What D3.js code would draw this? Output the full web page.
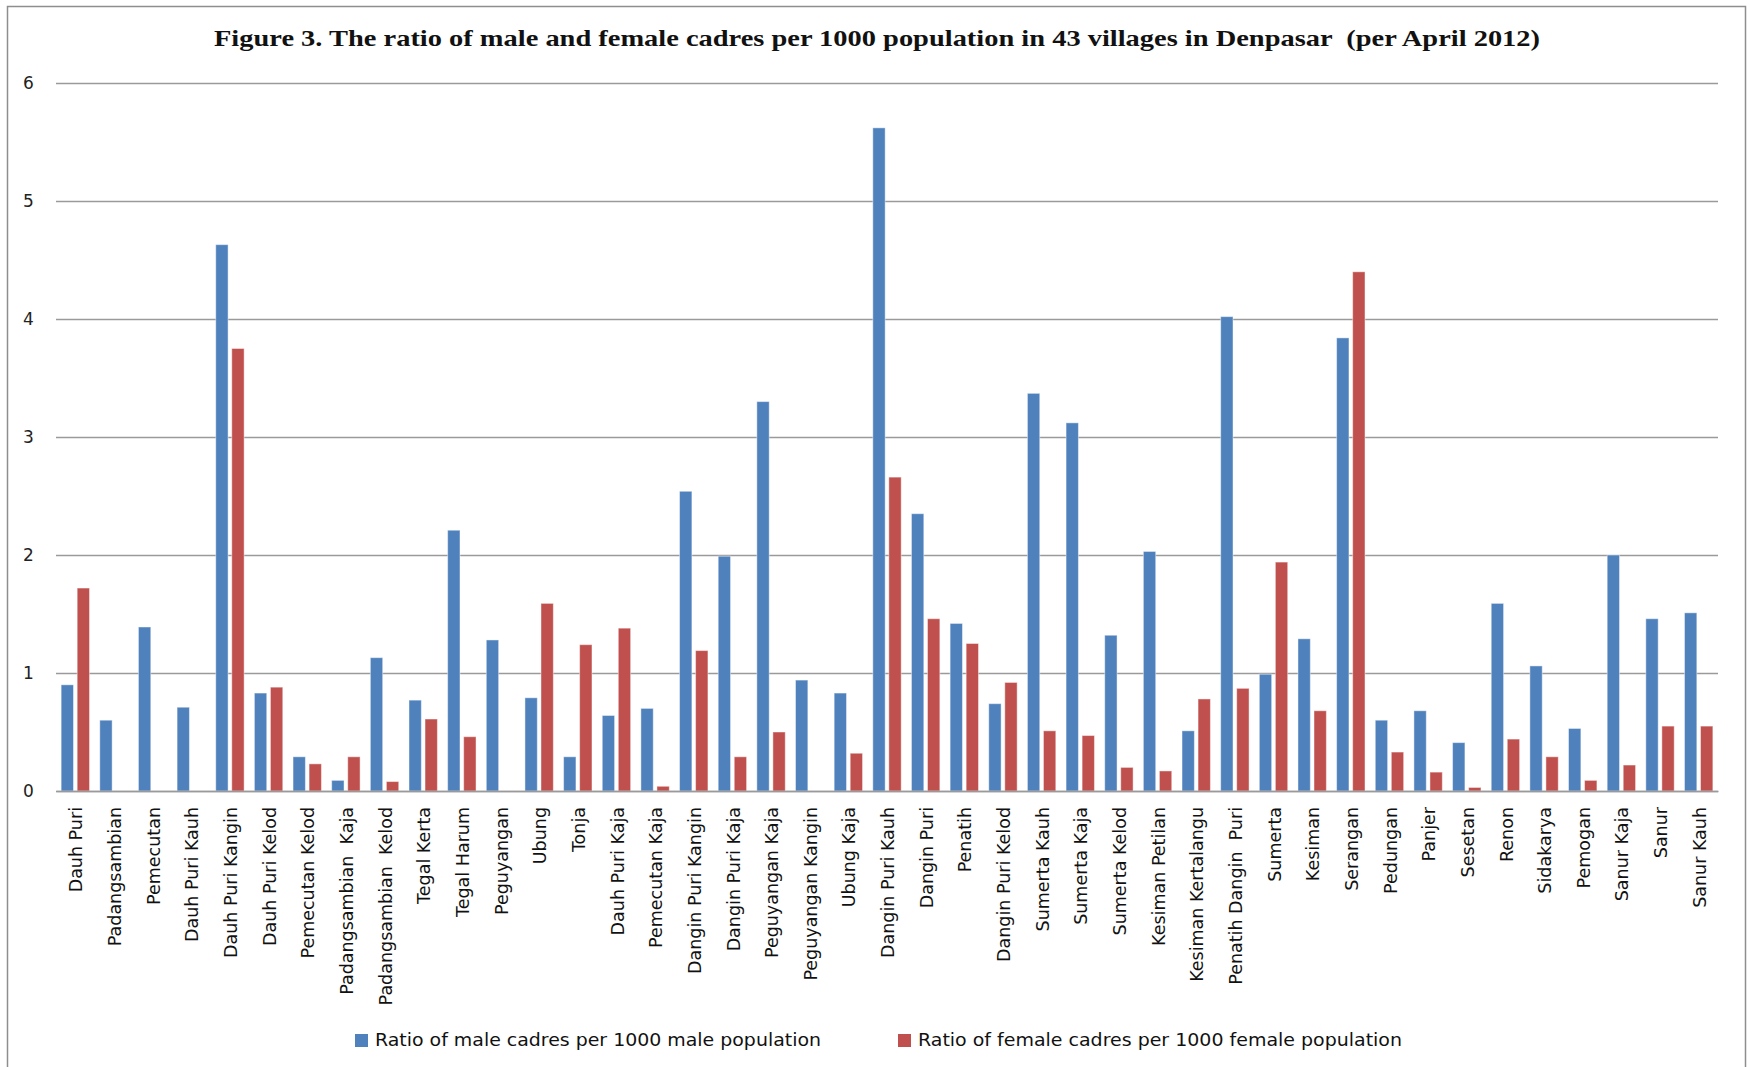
<!DOCTYPE html>
<html>
<head>
<meta charset="utf-8">
<script src="https://cdn.jsdelivr.net/npm/d3@7"></script>
<style>
  body { margin: 0; background: #fff; }
  svg { display: block; }
</style>
</head>
<body>
<svg width="1750" height="1067"></svg>
<script>
'use strict';

var title = 'Figure 3. The ratio of male and female cadres per 1000 population in 43 villages in Denpasar  (per April 2012)';

var villages = ['Dauh Puri', 'Padangsambian', 'Pemecutan', 'Dauh Puri Kauh', 'Dauh Puri Kangin',
    'Dauh Puri Kelod', 'Pemecutan Kelod', 'Padangsambian  Kaja', 'Padangsambian  Kelod', 'Tegal Kerta',
    'Tegal Harum', 'Peguyangan', 'Ubung', 'Tonja', 'Dauh Puri Kaja', 'Pemecutan Kaja',
    'Dangin Puri Kangin', 'Dangin Puri Kaja', 'Peguyangan Kaja', 'Peguyangan Kangin', 'Ubung Kaja',
    'Dangin Puri Kauh', 'Dangin Puri', 'Penatih', 'Dangin Puri Kelod', 'Sumerta Kauh', 'Sumerta Kaja',
    'Sumerta Kelod', 'Kesiman Petilan', 'Kesiman Kertalangu', 'Penatih Dangin  Puri', 'Sumerta',
    'Kesiman', 'Serangan', 'Pedungan', 'Panjer', 'Sesetan', 'Renon', 'Sidakarya', 'Pemogan',
    'Sanur Kaja', 'Sanur', 'Sanur Kauh'];

var maleRatio = [0.90, 0.60, 1.39, 0.71, 4.63, 0.83, 0.29, 0.09, 1.13, 0.77,
    2.21, 1.28, 0.79, 0.29, 0.64, 0.70, 2.54, 1.99, 3.30, 0.94,
    0.83, 5.62, 2.35, 1.42, 0.74, 3.37, 3.12, 1.32, 2.03, 0.51,
    4.02, 0.99, 1.29, 3.84, 0.60, 0.68, 0.41, 1.59, 1.06, 0.53,
    2.00, 1.46, 1.51];

var femaleRatio = [1.72, 0, 0, 0, 3.75, 0.88, 0.23, 0.29, 0.08, 0.61,
    0.46, 0, 1.59, 1.24, 1.38, 0.04, 1.19, 0.29, 0.50, 0,
    0.32, 2.66, 1.46, 1.25, 0.92, 0.51, 0.47, 0.20, 0.17, 0.78,
    0.87, 1.94, 0.68, 4.40, 0.33, 0.16, 0.03, 0.44, 0.29, 0.09,
    0.22, 0.55, 0.55];

var seriesKeys = ['male', 'female'];
var seriesNames = ['Ratio of male cadres per 1000 male population',
    'Ratio of female cadres per 1000 female population'];
var seriesColors = ['#4f81bd', '#c0504d'];

var yTicks = [0, 1, 2, 3, 4, 5, 6];

var PLOT = { left: 56, right: 1718, top: 83, bottom: 791 };

var svg = d3.select('svg');

// outer frame (no bottom edge visible)
svg.append('path')
    .attr('d', 'M7.5,1067V6.5H1745.5V1067')
    .attr('fill', 'none')
    .attr('stroke', '#8e8e8e')
    .attr('stroke-width', 1.5);

// title
svg.append('text')
    .attr('x', 877)
    .attr('y', 46)
    .attr('text-anchor', 'middle')
    .attr('font-family', '"Liberation Serif", "Times New Roman", serif')
    .attr('font-weight', 'bold')
    .attr('font-size', 23)
    .attr('textLength', 1326)
    .attr('lengthAdjust', 'spacingAndGlyphs')
    .attr('fill', '#111')
    .style('white-space', 'pre')
    .text(title);

var x = d3.scaleBand()
    .domain(villages)
    .range([PLOT.left, PLOT.right])
    .paddingInner(0)
    .paddingOuter(0);

var x1 = d3.scaleBand()
    .domain(seriesKeys)
    .range([0, x.bandwidth()])
    .paddingInner(0.23)
    .paddingOuter(0.32);

var y = d3.scaleLinear()
    .domain([0, 6])
    .range([PLOT.bottom, PLOT.top]);

// grid + y labels
var axisY = d3.axisLeft(y)
    .tickValues(yTicks)
    .tickSize(-(PLOT.right - PLOT.left))
    .tickFormat(d3.format('d'));

var gy = svg.append('g')
    .attr('class', 'axisY')
    .attr('transform', 'translate(' + PLOT.left + ',0)')
    .call(axisY);
gy.select('.domain').remove();
gy.selectAll('line')
    .attr('stroke', '#9a9a9a')
    .attr('stroke-width', 1.5);
gy.selectAll('text')
    .attr('x', -27.5)
    .attr('text-anchor', 'middle')
    .attr('font-family', '"DejaVu Sans", Verdana, sans-serif')
    .attr('font-size', 17)
    .attr('fill', '#222');

// bars
var rows = villages.map(function(v, i) {
    return { village: v, male: maleRatio[i], female: femaleRatio[i] };
});

var groups = svg.append('g')
    .attr('id', 'bar-group')
    .selectAll('g')
    .data(rows)
    .enter()
    .append('g')
    .attr('transform', function(d) { return 'translate(' + x(d.village) + ',0)'; });

groups.selectAll('rect')
    .data(function(d) {
        return seriesKeys.map(function(k, j) { return { key: k, value: d[k], color: seriesColors[j] }; });
    })
    .enter()
    .append('rect')
    .attr('x', function(d) { return x1(d.key); })
    .attr('y', function(d) { return y(d.value); })
    .attr('width', x1.bandwidth())
    .attr('height', function(d) { return y(0) - y(d.value); })
    .attr('fill', function(d) { return d.color; })
    .attr('stroke', 'rgba(255,255,255,0.45)')
    .attr('stroke-width', 1);

// x axis
var axisX = d3.axisBottom(x)
    .tickSize(0)
    .tickSizeOuter(0);

var gx = svg.append('g')
    .attr('class', 'axisX')
    .attr('transform', 'translate(0,' + PLOT.bottom + ')')
    .call(axisX);
gx.select('.domain')
    .attr('stroke', '#9a9a9a')
    .attr('stroke-width', 1.5);
gx.selectAll('text')
    .attr('transform', 'rotate(-90)')
    .attr('x', -16)
    .attr('y', 1)
    .attr('dy', '0.35em')
    .attr('text-anchor', 'end')
    .attr('font-family', '"DejaVu Sans", Verdana, sans-serif')
    .attr('font-size', 17.5)
    .attr('fill', '#111')
    .style('white-space', 'pre');

// legend
var legendX = [355, 898];
var legendW = [446, 484];
var legend = svg.append('g')
    .attr('class', 'legend')
    .selectAll('g')
    .data(seriesNames)
    .enter()
    .append('g')
    .attr('transform', function(d, i) { return 'translate(' + legendX[i] + ',1034)'; });

legend.append('rect')
    .attr('width', 13)
    .attr('height', 13)
    .attr('fill', function(d, i) { return seriesColors[i]; });

legend.append('text')
    .attr('x', 20)
    .attr('y', 12)
    .attr('font-family', '"DejaVu Sans", Verdana, sans-serif')
    .attr('font-size', 17)
    .attr('fill', '#111')
    .attr('textLength', function(d, i) { return legendW[i]; })
    .attr('lengthAdjust', 'spacingAndGlyphs')
    .text(function(d) { return d; });
</script>
</body>
</html>
